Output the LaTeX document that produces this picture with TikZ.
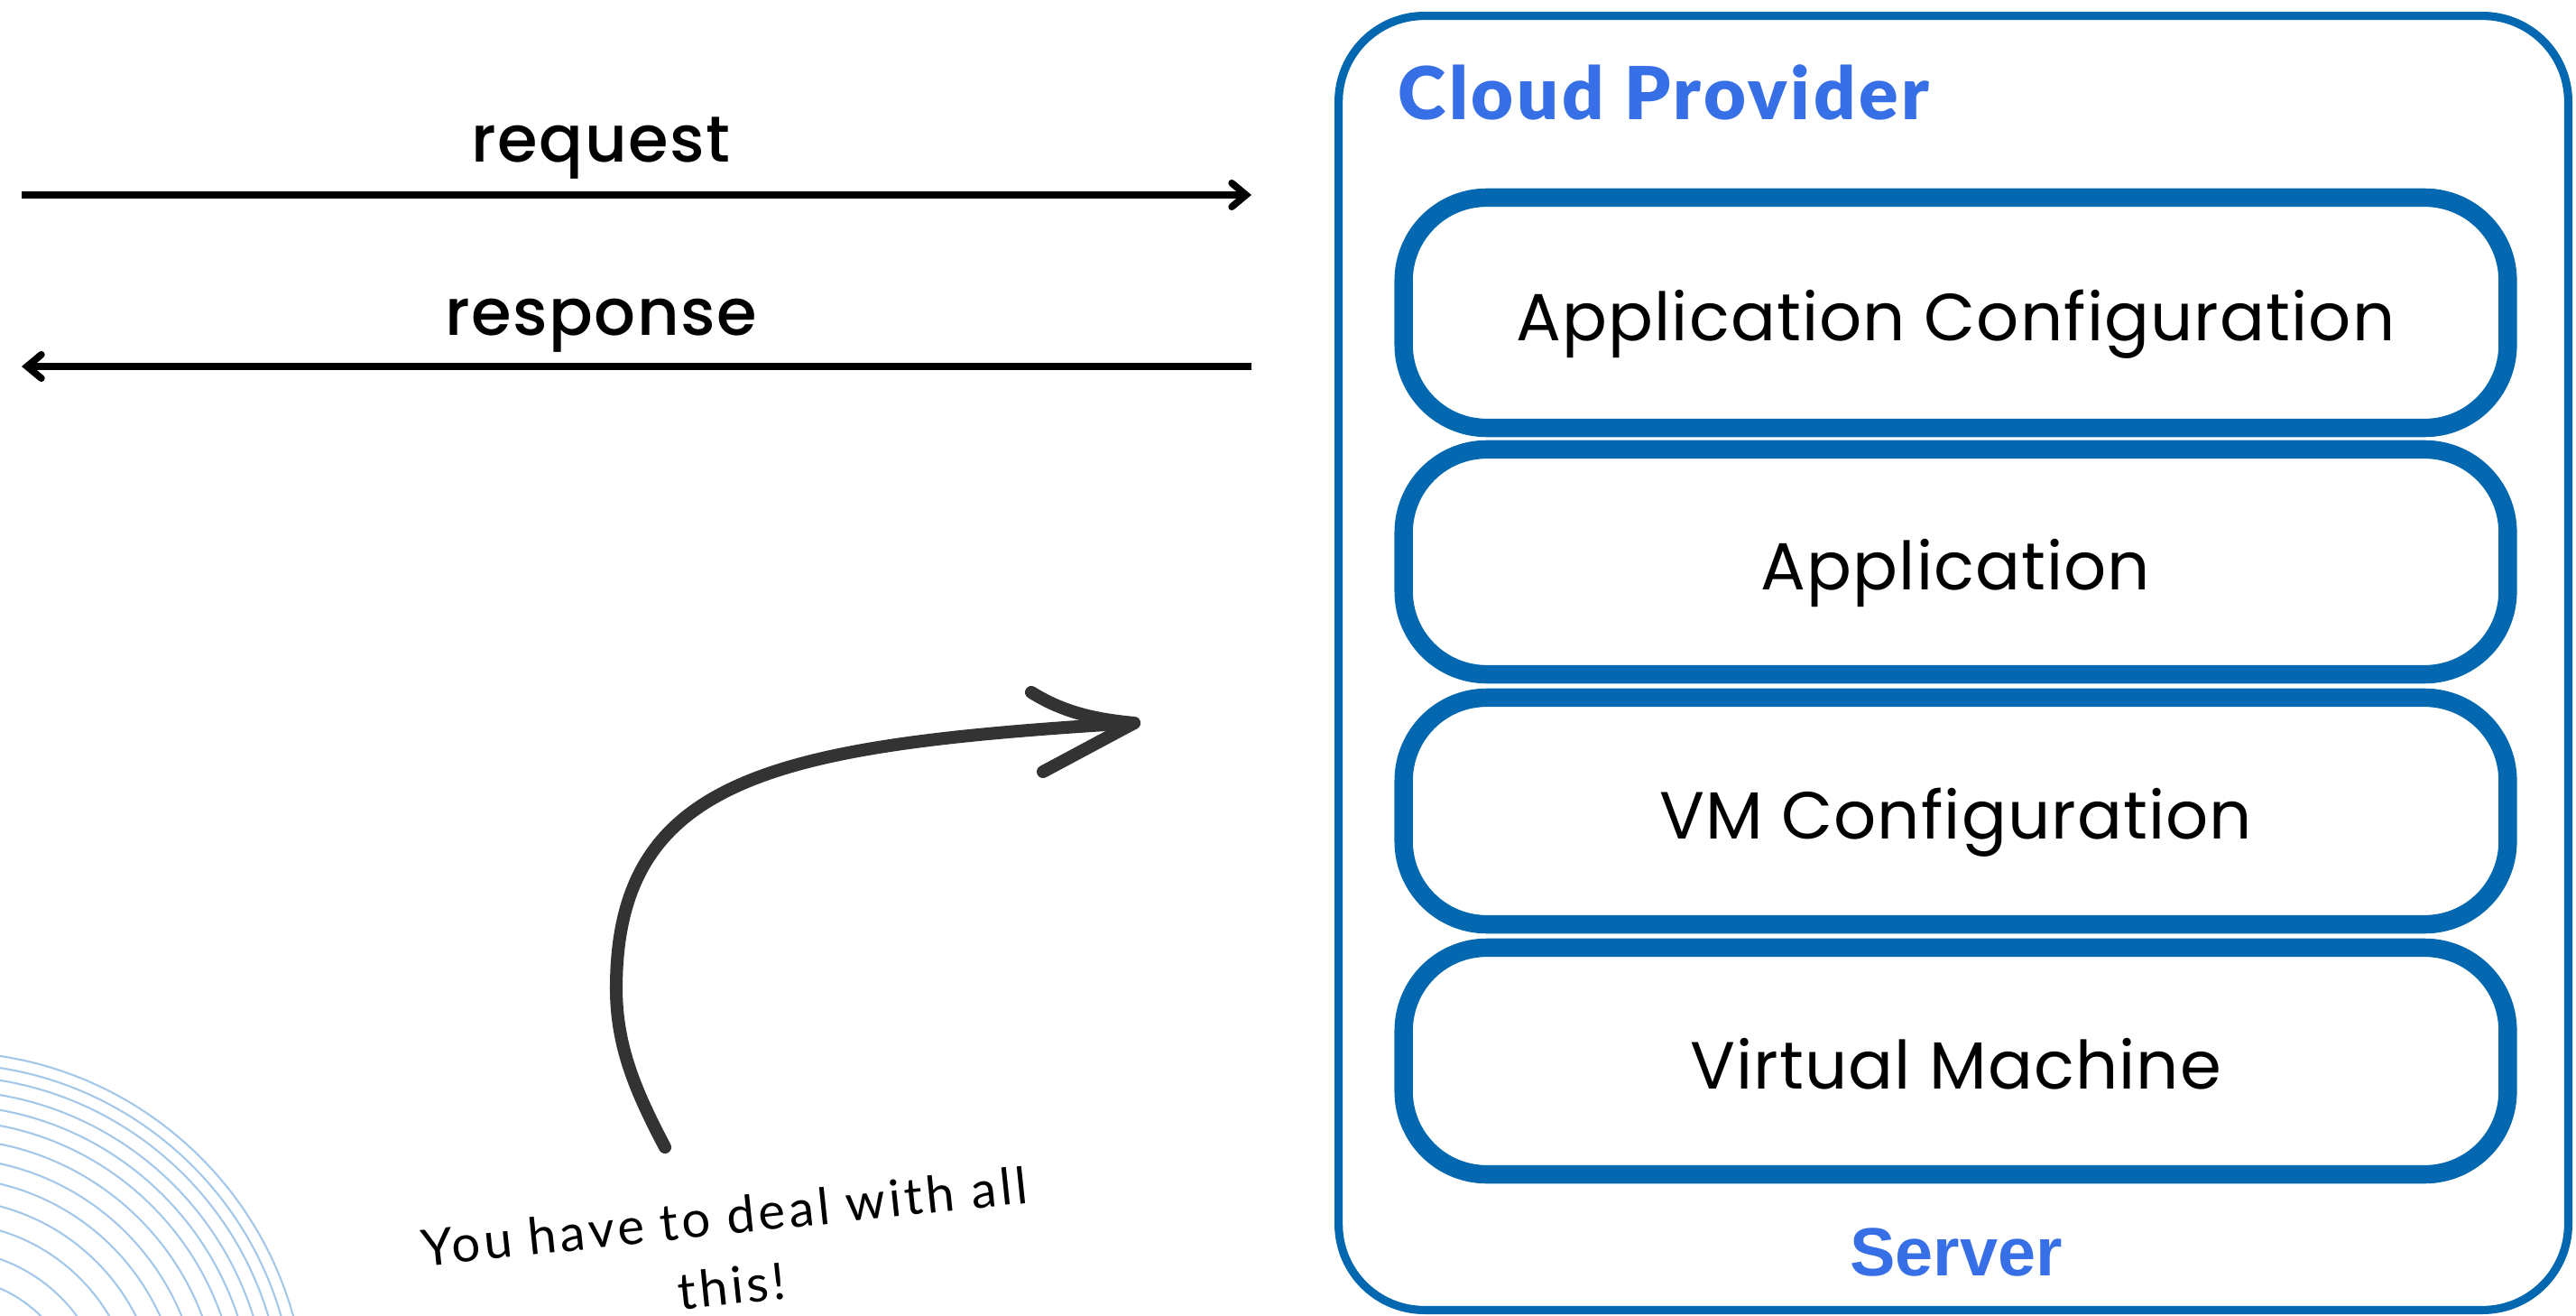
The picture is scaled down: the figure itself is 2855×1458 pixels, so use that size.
\documentclass[tikz,border=0pt]{standalone}
\usepackage{fontspec}
\setmainfont{Poppins}
\newfontfamily\labfont{Poppins}[LetterSpace=1.5]
\newfontfamily\medfont{Poppins Medium}[LetterSpace=2]
\newfontfamily\handfont{Lato}[LetterSpace=7]
\newfontfamily\titlefont{Lato Black}[LetterSpace=4.5]
\newfontfamily\serverfont{Liberation Sans Bold}
\usetikzlibrary{arrows.meta}
\definecolor{boxblue}{HTML}{0468B1}
\definecolor{titleblue}{HTML}{376FE6}
\definecolor{arcblue}{HTML}{A4C8EA}
\definecolor{handgray}{HTML}{333333}
\tikzset{
  outerbox/.style={draw=boxblue, line width=2.6pt, rounded corners=0.95cm, fill=white},
  layer/.style={draw=boxblue, line width=5.8pt, rounded corners=0.92cm, fill=white,
    minimum width=12.23cm, font=\labfont\fontsize{21}{26}\selectfont, text=black,
    text height=17.8pt, text depth=0pt},
  flow/.style={line width=2.2pt, black, -{Straight Barb[length=4.5pt, width=7.5pt, line cap=round]}},
  flowlabel/.style={font=\medfont\fontsize{20.5}{25}\selectfont, text=black, anchor=base},
  hand/.style={draw=handgray, line width=4pt, line cap=round, line join=round},
  ripple/.style={draw=arcblue, line width=0.6pt},
}
\begin{document}
\begin{tikzpicture}[x=0.01cm, y=-0.01cm]
\useasboundingbox (0,0) rectangle (2855,1458);
% ripples
\begin{scope}
\clip (0,0) rectangle (2855,1458);
\foreach \r in {399.5,386.5,372.9,356.9,340.5,323.4,303.4,282.2,260.3,236.2,210.3,180.3,150.1}
  \draw[ripple] (-60,1565) circle[radius=\r];
\end{scope}
% cloud provider box
\node[outerbox, minimum width=13.62cm, minimum height=14.33cm] (cloud) at (2165,734.5) {};
\node[anchor=base west, text=titleblue, font=\titlefont\fontsize{23}{28}\selectfont] (ctitle) at (1537,133) {Cloud Provider};
\node[text=titleblue, font=\serverfont\fontsize{21.5}{26}\selectfont] (server) at (2168,1387) {Server};
% layers (drawn bottom first)
\node[layer, minimum height=2.51cm] (vm) at (2167.5,1175.5) {Virtual Machine};
\node[layer, minimum height=2.51cm] (vmc) at (2167.5,898.5) {VM Configuration};
\node[layer, minimum height=2.49cm] (app) at (2167.5,622.5) {Application};
\node[layer, minimum height=2.55cm] (appc) at (2167.5,346.5) {Application Configuration};
% request / response
\coordinate (reqS) at (24,216);
\coordinate (reqE) at (1387,216);
\coordinate (resS) at (1387,406);
\coordinate (resE) at (24,406);
\draw[flow] (reqS) -- (reqE);
\draw[flow] (resS) -- (resE);
\node[flowlabel] (reqL) at (666,180) {request};
\node[flowlabel] (resL) at (666,372) {response};
% hand-drawn arrow
\coordinate (hs) at (737,1271);
\coordinate (hm) at (683,1095);
\coordinate (ht) at (1257,801);
\coordinate (hu) at (1143,767);
\coordinate (hl) at (1156,855);
\draw[hand] (hs) .. controls (705,1210) and (683,1160) .. (hm)
  .. controls (683,860) and (860,825) .. (ht);
\draw[hand] (hu) .. controls (1180,790) and (1215,797) .. (ht) -- (hl);
\node[rotate=6, align=center, text=black, font=\handfont\fontsize{16}{22}\selectfont] (note) at (807,1386)
  {You have to deal with all\\this!};
\end{tikzpicture}
\end{document}
